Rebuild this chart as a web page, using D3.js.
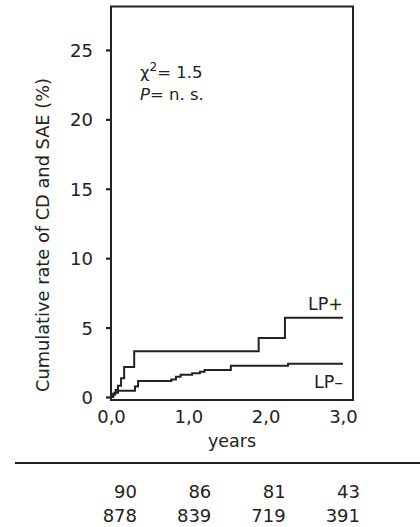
<!DOCTYPE html>
<html>
<head>
<meta charset="utf-8">
<script src="https://cdn.jsdelivr.net/npm/d3@7"></script>
<style>
  html, body { margin: 0; padding: 0; background: #fff; }
  svg { display: block; }
  text { font-family: "DejaVu Sans", Verdana, sans-serif; fill: #222; }
</style>
</head>
<body>
<svg id="chart" width="420" height="527"></svg>
<script>
// Cumulative incidence (%) of CD and SAE by group, step function over years
const lpPlusTimes  = [0, 0.03, 0.06, 0.09, 0.13, 0.17, 0.30, 1.91, 2.25];
const lpPlusValues = [0, 0.25, 0.5, 0.8, 1.35, 2.15, 3.3, 4.25, 5.7];
const lpMinusTimes  = [0, 0.02, 0.05, 0.09, 0.31, 0.35, 0.78, 0.84, 0.90, 1.05, 1.15, 1.21, 1.55, 2.29];
const lpMinusValues = [0, 0.15, 0.3, 0.45, 0.75, 1.15, 1.25, 1.45, 1.6, 1.7, 1.82, 1.95, 2.25, 2.4];
const followUpEnd = 3.0;

const yTicks = [0, 5, 10, 15, 20, 25];
const xTicks = [0, 1, 2, 3];
const xTickLabels = ["0,0", "1,0", "2,0", "3,0"];

// Patients at risk at each year
const riskYears = [0, 1, 2, 3];
const atRiskLpPlus  = [90, 86, 81, 43];
const atRiskLpMinus = [878, 839, 719, 391];

const svg = d3.select("#chart");
const ink = "#222";
const font = "DejaVu Sans, Verdana, sans-serif";

const x = d3.scaleLinear().domain([0, 3.13]).range([111, 353]);
const y = d3.scaleLinear().domain([-0.22, 28.13]).range([400, 6.5]);

// Plot frame
svg.append("rect")
  .attr("x", x(0)).attr("y", y(28.13))
  .attr("width", x(3.13) - x(0)).attr("height", y(-0.22) - y(28.13))
  .attr("fill", "none").attr("stroke", ink).attr("stroke-width", 2);

// Y axis ticks and labels
const yAxis = d3.axisLeft(y).tickValues(yTicks).tickSize(5).tickPadding(13).tickFormat(d3.format("d"));
const gy = svg.append("g").attr("transform", `translate(${x(0)},0)`).call(yAxis);
gy.select(".domain").remove();
gy.selectAll(".tick line").attr("stroke", ink).attr("stroke-width", 2.2);
gy.selectAll(".tick text")
  .attr("font-size", 18).attr("font-family", font)
  .attr("fill", ink).attr("dy", "0.36em");

// X axis labels (no tick marks)
const xAxis = d3.axisBottom(x).tickValues(xTicks).tickSize(0).tickPadding(10)
  .tickFormat((d, i) => xTickLabels[i]);
const gx = svg.append("g").attr("transform", `translate(0,${y(-0.22)})`).call(xAxis);
gx.select(".domain").remove();
gx.selectAll(".tick text")
  .attr("font-size", 18).attr("font-family", font)
  .attr("fill", ink);

// Axis titles
svg.append("text")
  .attr("x", 232).attr("y", 447)
  .attr("text-anchor", "middle").attr("font-size", 17.5)
  .text("years");

svg.append("text")
  .attr("transform", "translate(49,235) rotate(-90)")
  .attr("text-anchor", "middle").attr("font-size", 17.8)
  .text("Cumulative rate of CD and SAE (%)");

// Step curves
const step = d3.line().curve(d3.curveStepAfter).x(d => x(d[0])).y(d => y(d[1]));
function stepPoints(times, values) {
  const pts = times.map((t, i) => [t, values[i]]);
  pts.push([followUpEnd, values[values.length - 1]]);
  return pts;
}
svg.append("path")
  .datum(stepPoints(lpPlusTimes, lpPlusValues))
  .attr("d", step).attr("fill", "none").attr("stroke", ink).attr("stroke-width", 2);
svg.append("path")
  .datum(stepPoints(lpMinusTimes, lpMinusValues))
  .attr("d", step).attr("fill", "none").attr("stroke", ink).attr("stroke-width", 2);

// Curve labels
svg.append("text").attr("x", 343).attr("y", 310).attr("text-anchor", "end")
  .attr("font-size", 17.5).text("LP+");
svg.append("text").attr("x", 343).attr("y", 388).attr("text-anchor", "end")
  .attr("font-size", 17.5).text("LP\u2013");

// Test statistic
const stat = svg.append("text").attr("x", 140).attr("y", 78).attr("font-size", 16.5);
stat.append("tspan").text("\u03C7");
stat.append("tspan").attr("font-size", 12).attr("dy", -7).text("2");
stat.append("tspan").attr("dy", 7).text("= 1.5");
const pv = svg.append("text").attr("x", 140).attr("y", 100).attr("font-size", 16.5);
pv.append("tspan").attr("font-style", "italic").text("P");
pv.append("tspan").text("= n. s.");

// Patients-at-risk table
svg.append("line")
  .attr("x1", 15).attr("x2", 420).attr("y1", 463).attr("y2", 463)
  .attr("stroke", ink).attr("stroke-width", 1.8);

const colX = d3.scaleLinear().domain([0, 3]).range([137, 360]);
const rows = [atRiskLpPlus, atRiskLpMinus];
const rowY = [498, 522];
rows.forEach((vals, r) => {
  svg.append("g").selectAll("text")
    .data(vals)
    .join("text")
    .attr("x", (d, i) => colX(riskYears[i]))
    .attr("y", rowY[r])
    .attr("text-anchor", "end")
    .attr("font-size", 18)
    .text(d => d);
});
</script>
</body>
</html>
